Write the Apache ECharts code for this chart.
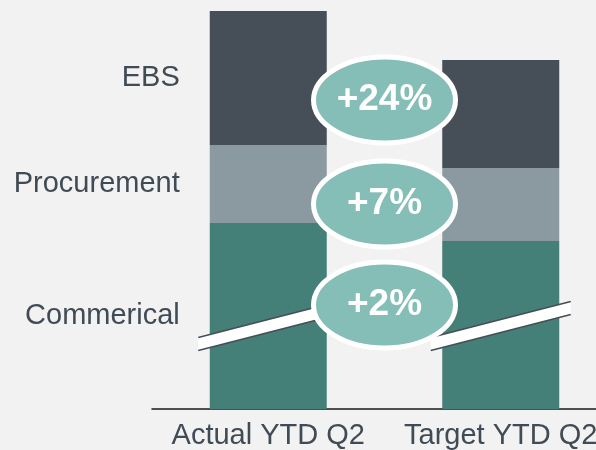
<!DOCTYPE html>
<html>
<head>
<meta charset="utf-8">
<style>
  html, body { margin: 0; padding: 0; background: #f2f2f2; }
  #chart { width: 596px; height: 450px; }
</style>
<script src="https://cdn.jsdelivr.net/npm/echarts@6/dist/echarts.min.js"></script>
</head>
<body>
<div id="chart"></div>
<script>
// categories and segment values (arbitrary units)
const categories = ['Actual YTD Q2', 'Target YTD Q2'];
const commercial = [186, 168];
const procurement = [78, 73];
const ebs = [134, 108];

// change bubbles between the bars and the level they sit at
const changes = ['+2%', '+7%', '+24%'];
const changeLevels = [104, 205, 309];

// axis break mark level
const breakLevel = 83;

const font = "'Liberation Sans', Arial, sans-serif";
const textColor = '#414b55';

function seriesFor(name, values, color) {
    return {
        name: name,
        type: 'bar',
        stack: 'total',
        barWidth: 117,
        itemStyle: { color: color },
        data: values.map((v, i) => i === 0 ? {
            value: v,
            label: {
                show: true,
                position: 'left',
                distance: 30,
                formatter: name,
                color: textColor,
                fontSize: 29,
                fontFamily: font
            }
        } : v)
    };
}

const chart = echarts.init(document.getElementById('chart'));

chart.setOption({
    backgroundColor: '#f2f2f2',
    animation: false,
    grid: { left: 152, width: 465, top: 9, height: 400, outerBoundsMode: 'none', containLabel: false },
    xAxis: {
        type: 'category',
        data: categories,
        axisLine: { lineStyle: { color: '#1a1a1a', width: 1.5 } },
        axisTick: { show: false },
        axisLabel: { interval: 0, color: textColor, fontSize: 29, fontFamily: font, margin: 12 }
    },
    yAxis: {
        type: 'value',
        min: 0,
        max: 400,
        show: false,
        splitLine: { show: false }
    },
    series: [
        seriesFor('Commerical', commercial, '#447f78'),
        seriesFor('Procurement', procurement, '#8b9aa1'),
        seriesFor('EBS', ebs, '#464e58'),
        {
            // break marks across the bars
            type: 'custom',
            z: 5,
            clip: false,
            data: categories.map((c, i) => [i, breakLevel]),
            renderItem: function (params, api) {
                const p = api.coord([api.value(0), api.value(1)]);
                const half = 70, rise = 18, th = 6.5;
                const x0 = p[0] - half, x1 = p[0] + half;
                const y0 = p[1] + rise, y1 = p[1] - rise;
                return {
                    type: 'group',
                    children: [
                        {
                            type: 'polygon',
                            shape: { points: [[x0, y0 - th], [x1, y1 - th], [x1, y1 + th], [x0, y0 + th]] },
                            style: { fill: '#ffffff' }
                        },
                        {
                            type: 'line',
                            shape: { x1: x0, y1: y0 - th, x2: x1, y2: y1 - th },
                            style: { stroke: '#454d56', lineWidth: 1.5 }
                        },
                        {
                            type: 'line',
                            shape: { x1: x0, y1: y0 + th, x2: x1, y2: y1 + th },
                            style: { stroke: '#454d56', lineWidth: 1.5 }
                        }
                    ]
                };
            }
        },
        {
            // change bubbles
            type: 'custom',
            z: 10,
            clip: false,
            data: changeLevels.map((v, i) => [i, v]),
            renderItem: function (params, api) {
                const lv = api.value(1);
                const a = api.coord([0, lv]);
                const b = api.coord([1, lv]);
                const cx = (a[0] + b[0]) / 2;
                return {
                    type: 'group',
                    children: [
                        {
                            type: 'ellipse',
                            shape: { cx: cx, cy: a[1], rx: 71, ry: 43 },
                            style: { fill: '#85beb7', stroke: '#ffffff', lineWidth: 5 }
                        },
                        {
                            type: 'text',
                            x: cx,
                            y: a[1],
                            style: {
                                text: changes[api.value(0)],
                                fill: '#ffffff',
                                font: 'bold 37px ' + font,
                                align: 'center',
                                verticalAlign: 'middle'
                            }
                        }
                    ]
                };
            }
        }
    ]
});
</script>
</body>
</html>
